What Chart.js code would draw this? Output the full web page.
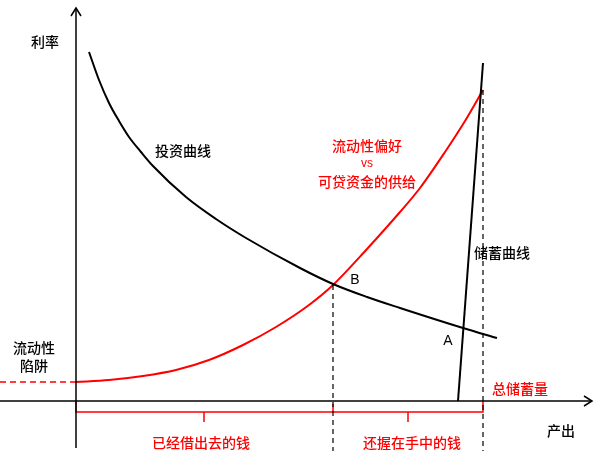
<!DOCTYPE html>
<html>
<head>
<meta charset="utf-8">
<script src="https://cdn.jsdelivr.net/npm/chart.js@4"></script>
<style>
  body { margin: 0; background: #fff; }
  #wrap { width: 600px; height: 460px; position: relative; }
</style>
</head>
<body>
<div id="wrap"><canvas id="chart"></canvas></div>
<script>
// origin of the diagram = where the two axes cross
// x = output, y = interest rate (both in plain drawing units)

// investment curve (black)
const investX = [13, 23, 33, 43, 53, 65, 77, 110, 140, 170, 224, 257, 291, 324, 387, 421];
const investY = [349, 321, 298, 280, 264, 249, 235, 204, 182, 163, 133, 117, 104, 93, 73, 63];

// liquidity preference vs supply of loanable funds (red)
const liquidX = [0, 33, 67, 100, 133, 167, 200, 233, 257, 291, 324, 344, 369, 389, 407];
const liquidY = [19, 21, 25, 31, 41, 56, 74, 96, 116, 152, 189, 213, 249, 280, 311];

// savings curve (black, almost vertical)
const savingX = [382, 407];
const savingY = [0, 338];

// key points
const pointB = [257, 116];
const totalSaving = 407;   // x of 总储蓄量
const trapRate = 19;       // y of 流动性陷阱
const floorY = -50;        // bottom of the dashed guides

// axes
const xAxisEnd = 516;
const yAxisEnd = 393;
const axisStart = -47;

const toPts = (xs, ys) => xs.map((x, i) => ({ x: x, y: ys[i] }));

// brace under the x axis
const braceX = [0, 0, 128, 128, 128, 257, 257, 257, 332, 332, 332, 407, 407];
const braceY = [0, -11, -11, -21, -11, -11, -3, -11, -11, -21, -11, -11, 0];

const labels = [
  { text: '利率', x: -31, y: 359, color: '#000' },
  { text: '投资曲线', x: 107, y: 250, color: '#000' },
  { text: '流动性偏好', x: 291, y: 255, color: '#ff0000' },
  { text: 'vs', x: 291, y: 237, color: '#ff0000', font: '12px "Liberation Sans"' },
  { text: '可贷资金的供给', x: 291, y: 219, color: '#ff0000' },
  { text: 'B', x: 279, y: 121, color: '#000', font: '14px "Liberation Sans"' },
  { text: '储蓄曲线', x: 426, y: 148, color: '#000' },
  { text: 'A', x: 372, y: 60, color: '#000', font: '14px "Liberation Sans"' },
  { text: '流动性', x: -42, y: 53, color: '#000' },
  { text: '陷阱', x: -42, y: 35, color: '#000' },
  { text: '总储蓄量', x: 444, y: 12, color: '#ff0000' },
  { text: '产出', x: 485, y: -30, color: '#000' },
  { text: '已经借出去的钱', x: 125, y: -42, color: '#ff0000' },
  { text: '还握在手中的钱', x: 336, y: -42, color: '#ff0000' }
];

const line = (data, color, width, extra) => Object.assign({
  data: data,
  showLine: true,
  borderColor: color,
  borderWidth: width,
  pointRadius: 0,
  fill: false,
  tension: 0
}, extra || {});

// arrows + text
const decorPlugin = {
  id: 'decor',
  afterDatasetsDraw(chart) {
    const ctx = chart.ctx;
    const sx = chart.scales.x, sy = chart.scales.y;
    ctx.save();
    ctx.strokeStyle = '#000';
    ctx.lineWidth = 1.5;
    // y axis arrow
    let tx = sx.getPixelForValue(0), ty = sy.getPixelForValue(yAxisEnd);
    ctx.beginPath();
    ctx.moveTo(tx - 5, ty + 8);
    ctx.lineTo(tx, ty);
    ctx.lineTo(tx + 5, ty + 8);
    ctx.stroke();
    // x axis arrow
    tx = sx.getPixelForValue(xAxisEnd); ty = sy.getPixelForValue(0);
    ctx.beginPath();
    ctx.moveTo(tx - 8, ty - 5);
    ctx.lineTo(tx, ty);
    ctx.lineTo(tx - 8, ty + 5);
    ctx.stroke();

    ctx.textAlign = 'center';
    ctx.textBaseline = 'middle';
    labels.forEach(l => {
      ctx.fillStyle = l.color;
      ctx.font = l.font || '500 14px "Noto Sans CJK SC"';
      ctx.fillText(l.text, sx.getPixelForValue(l.x), sy.getPixelForValue(l.y));
    });
    ctx.restore();
  }
};

new Chart(document.getElementById('chart'), {
  type: 'scatter',
  data: {
    datasets: [
      // axes
      line([{ x: 0, y: axisStart }, { x: 0, y: yAxisEnd }], '#000', 1.5),
      line([{ x: -76, y: 0 }, { x: xAxisEnd, y: 0 }], '#000', 1.5),
      // dashed guides
      line([{ x: pointB[0], y: pointB[1] }, { x: pointB[0], y: floorY }], '#000', 1.2, { borderDash: [5, 4] }),
      line([{ x: totalSaving, y: liquidY[liquidY.length - 1] }, { x: totalSaving, y: floorY }], '#000', 1.2, { borderDash: [5, 4] }),
      line([{ x: -76, y: trapRate }, { x: 0, y: trapRate }], '#ff0000', 1.5, { borderDash: [6, 4] }),
      // brace
      line(toPts(braceX, braceY), '#ff0000', 1.5),
      // curves
      line(toPts(investX, investY), '#000', 2, { cubicInterpolationMode: 'monotone' }),
      line(toPts(savingX, savingY), '#000', 2),
      line(toPts(liquidX, liquidY), '#ff0000', 2, { cubicInterpolationMode: 'monotone' })
    ]
  },
  options: {
    responsive: true,
    maintainAspectRatio: false,
    animation: false,
    layout: { padding: 0 },
    plugins: { legend: { display: false }, tooltip: { enabled: false } },
    scales: {
      x: { type: 'linear', min: -76, max: 524, display: false },
      y: { type: 'linear', min: -59, max: 401, display: false }
    }
  },
  plugins: [decorPlugin]
});
</script>
</body>
</html>
